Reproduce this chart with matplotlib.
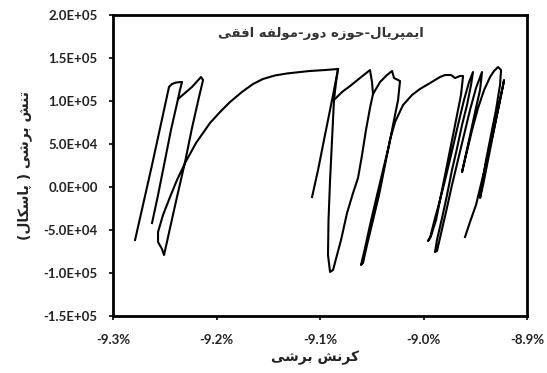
import numpy as np
import matplotlib
matplotlib.use("Agg")
import matplotlib.pyplot as plt
from matplotlib.ticker import FuncFormatter

# shear strain (%) / shear stress (Pa), traced branch by branch
left_strain = [-9.2787, -9.2623, -9.2459, -9.2430, -9.2391, -9.2333, -9.2353, -9.2372,
               -9.2440, -9.2507, -9.2565, -9.2623]
left_stress = [-61600, 25600, 116300, 119800, 121500, 122100, 112800, 102300,
               66300, 25600, -9300, -41900]

main_strain = [-9.2372, -9.2237, -9.2150, -9.2130, -9.2169, -9.2237, -9.2304, -9.2382,
               -9.2449, -9.2507, -9.2527, -9.2565, -9.2565, -9.2517, -9.2449, -9.2382,
               -9.2304, -9.2198, -9.2063, -9.1966, -9.1870, -9.1754, -9.1647, -9.1551,
               -9.1435, -9.1319, -9.1193, -9.1097, -9.0952, -9.0826, -9.0874, -9.0952,
               -9.1019, -9.1077]
main_stress = [102300, 116300, 127900, 124400, 104700, 68600, 29100, -11600,
               -47700, -79100, -72100, -64000, -52300, -32600, -11600, 8100,
               27900, 51200, 74400, 87200, 98800, 110500, 119800, 125600,
               129700, 132000, 133700, 134900, 136000, 137200, 107000, 60500,
               19800, -11600]

loop_strain = [-9.0865, -9.0787, -9.0710, -9.0614, -9.0517, -9.0498, -9.0488]
loop_stress = [101200, 110500, 117400, 126700, 136000, 122100, 108100]

right_strain = [-9.0826, -9.0845, -9.0865, -9.0884, -9.0903, -9.0918, -9.0923, -9.0903,
                -9.0874, -9.0836, -9.0797, -9.0739, -9.0681, -9.0633, -9.0594, -9.0556,
                -9.0517, -9.0488, -9.0420, -9.0353, -9.0304, -9.0285, -9.0227, -9.0246,
                -9.0285, -9.0333, -9.0391, -9.0449, -9.0517, -9.0565, -9.0604, -9.0585,
                -9.0546, -9.0488, -9.0430, -9.0372, -9.0324, -9.0275, -9.0198, -9.0111,
                -9.0034, -8.9937, -8.9841, -8.9792, -8.9734, -8.9696, -8.9647, -8.9618,
                -8.9638, -8.9667, -8.9705, -8.9744, -8.9792, -8.9831, -8.9879, -8.9928,
                -8.9957, -8.9937, -8.9899, -8.9841, -8.9792, -8.9734, -8.9667, -8.9609,
                -8.9560, -8.9522, -8.9541, -8.9580, -8.9628, -8.9676, -8.9725, -8.9773,
                -8.9821, -8.9870, -8.9889, -8.9870, -8.9841, -8.9783, -8.9725, -8.9667,
                -8.9609, -8.9551, -8.9493, -8.9435, -8.9454, -8.9502, -8.9560, -8.9628,
                -8.9589, -8.9531, -8.9473, -8.9415, -8.9357, -8.9319, -8.9280, -8.9251,
                -8.9261, -8.9300, -8.9348, -8.9396, -8.9454, -8.9425, -8.9377, -8.9319,
                -8.9261, -8.9222, -8.9232, -8.9271, -8.9319, -8.9377, -8.9435, -8.9493,
                -8.9551, -8.9599]
right_stress = [137200, 122100, 101200, 54700, 8100, -38400, -79100, -98800,
                -96500, -79100, -61600, -30200, -7000, 10500, 37200, 66300,
                91900, 108100, 122100, 130200, 134900, 126700, 123300, 101200,
                77900, 48800, 19800, -9300, -44200, -70900, -90700, -88400,
                -67400, -38400, -9300, 25600, 54700, 75600, 95300, 107000,
                114000, 120900, 127900, 130200, 130200, 126700, 129100, 129100,
                107000, 89500, 66300, 43000, 14000, -9300, -38400, -57000,
                -62800, -59300, -40700, -15100, 8100, 37200, 72100, 101200,
                122100, 133700, 118600, 95300, 72100, 45300, 19800, -9300,
                -36000, -61600, -75600, -74400, -59300, -29100, 2300, 31400,
                60500, 89500, 115100, 133700, 112800, 87200, 54700, 17400,
                37200, 66300, 91900, 112800, 127900, 134900, 139500, 136000,
                118600, 89500, 60500, 31400, -12800, 2300, 31400, 66300,
                101200, 124400, 117400, 95300, 68600, 37200, 8100, -20900,
                -40700, -58100]

x_ticks = [-9.3, -9.2, -9.1, -9.0, -8.9]
y_ticks = [-1.5e5, -1.0e5, -5.0e4, 0.0, 5.0e4, 1.0e5, 1.5e5, 2.0e5]

title_text = "ایمپریال-حوزه دور-مولفه افقی"
ylabel_text = "تنش برشی ( پاسکال)"
xlabel_text = "کرنش برشی"

# contextual forms: isolated, final, initial, medial
FORMS = {
    "ا": ("\uFE8D", "\uFE8E", None, None),
    "ب": ("\uFE8F", "\uFE90", "\uFE91", "\uFE92"),
    "پ": ("\uFB56", "\uFB57", "\uFB58", "\uFB59"),
    "ت": ("\uFE95", "\uFE96", "\uFE97", "\uFE98"),
    "ح": ("\uFEA1", "\uFEA2", "\uFEA3", "\uFEA4"),
    "د": ("\uFEA9", "\uFEAA", None, None),
    "ر": ("\uFEAD", "\uFEAE", None, None),
    "ز": ("\uFEAF", "\uFEB0", None, None),
    "س": ("\uFEB1", "\uFEB2", "\uFEB3", "\uFEB4"),
    "ش": ("\uFEB5", "\uFEB6", "\uFEB7", "\uFEB8"),
    "ف": ("\uFED1", "\uFED2", "\uFED3", "\uFED4"),
    "ق": ("\uFED5", "\uFED6", "\uFED7", "\uFED8"),
    "ک": ("\uFB8E", "\uFB8F", "\uFB90", "\uFB91"),
    "ل": ("\uFEDD", "\uFEDE", "\uFEDF", "\uFEE0"),
    "م": ("\uFEE1", "\uFEE2", "\uFEE3", "\uFEE4"),
    "ن": ("\uFEE5", "\uFEE6", "\uFEE7", "\uFEE8"),
    "ه": ("\uFEE9", "\uFEEA", "\uFEEB", "\uFEEC"),
    "و": ("\uFEED", "\uFEEE", None, None),
    "ی": ("\uFBFC", "\uFBFD", "\uFBFE", "\uFBFF"),
}


def shape_rtl(text):
    out = []
    for i, ch in enumerate(text):
        forms = FORMS.get(ch)
        if forms is None:
            out.append(ch)
            continue
        prev = text[i - 1] if i > 0 else ""
        nxt = text[i + 1] if i + 1 < len(text) else ""
        join_prev = prev in FORMS and FORMS[prev][2] is not None
        join_next = forms[2] is not None and nxt in FORMS
        if join_prev and join_next:
            out.append(forms[3])
        elif join_prev:
            out.append(forms[1])
        elif join_next:
            out.append(forms[2])
        else:
            out.append(forms[0])
    mirror = {"(": ")", ")": "("}
    return "".join(mirror.get(c, c) for c in reversed(out))


fig = plt.figure(figsize=(5.47, 3.73), dpi=100)
ax = fig.add_axes([0.2066, 0.1528, 0.7569, 0.807])

for xs, ys in [(left_strain, left_stress), (main_strain, main_stress),
               (loop_strain, loop_stress), (right_strain, right_stress)]:
    ax.plot(xs, ys, color="black", lw=1.5, solid_joinstyle="round")

ax.set_xlim(-9.3, -8.9)
ax.set_ylim(-1.5e5, 2.0e5)
ax.set_xticks(x_ticks)
ax.set_yticks(y_ticks)
ax.xaxis.set_major_formatter(FuncFormatter(lambda v, p: f"{v:.1f}%"))
ax.yaxis.set_major_formatter(FuncFormatter(lambda v, p: f"{v:.1E}"))

for s in ax.spines.values():
    s.set_linewidth(2.0)
ax.tick_params(direction="out", length=3, width=1.2, colors="black")
ax.tick_params(axis="x", pad=10)
ax.tick_params(axis="y", pad=8)
for lab in ax.get_xticklabels() + ax.get_yticklabels():
    lab.set_fontfamily("Lato")
    lab.set_fontweight("bold")
    lab.set_fontsize(9.5)
    lab.set_color("#222222")

ax.text(0.502, 0.94, shape_rtl(title_text), transform=ax.transAxes,
        ha="center", va="center", fontsize=9.5, fontweight="bold",
        family=["DejaVu Sans"], color="#333333")
fig.text(25 / 547, 1 - 165 / 373, shape_rtl(ylabel_text), rotation=90,
         ha="center", va="center", fontsize=10, fontweight="bold",
         family=["DejaVu Sans"], color="#222222")
fig.text(315 / 547, 1 - 358 / 373, shape_rtl(xlabel_text),
         ha="center", va="center", fontsize=10, fontweight="bold",
         family=["DejaVu Sans"], color="#222222")

fig.savefig("out.png", dpi=100)
